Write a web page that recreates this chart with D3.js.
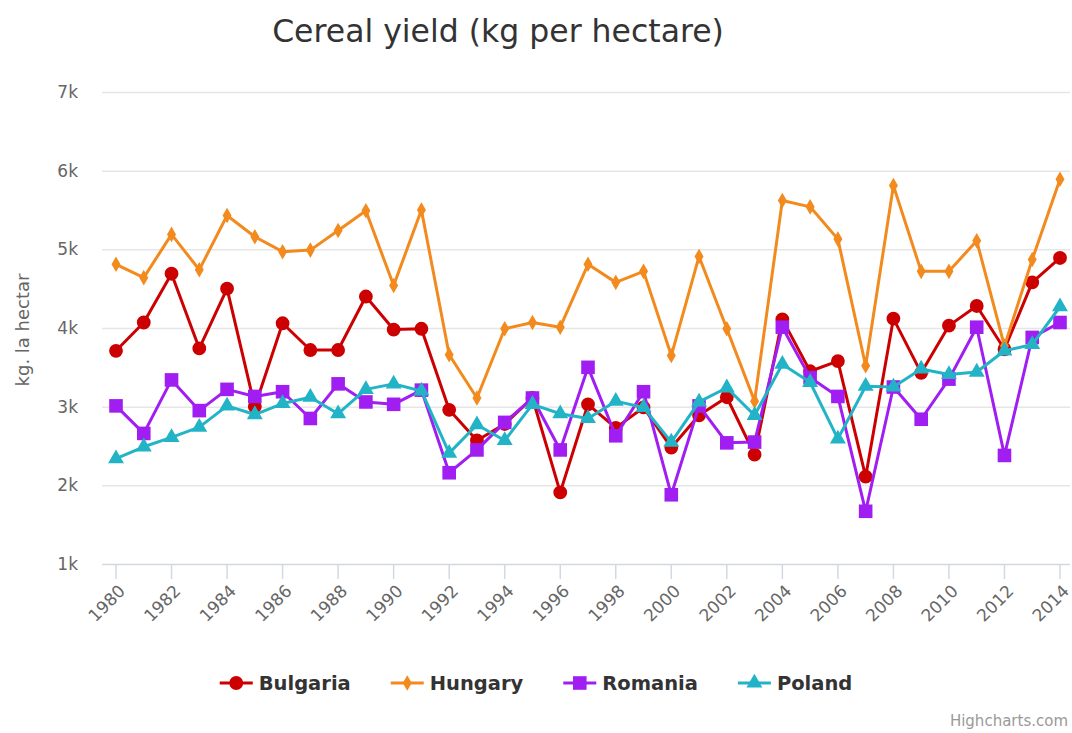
<!DOCTYPE html>
<html>
<head>
<meta charset="utf-8">
<script src="https://cdnjs.cloudflare.com/ajax/libs/d3/7.8.5/d3.min.js"></script>
<style>
  body { margin: 0; background: #fff; }
  svg { font-family: "DejaVu Sans", "Lucida Grande", sans-serif; }
</style>
</head>
<body>
<script>
// chart values
var years = d3.range(1980, 2015);
var yTicks = [1000, 2000, 3000, 4000, 5000, 6000, 7000];
var xTicks = d3.range(1980, 2015, 2);

var bulgaria = [3710, 4070, 4690, 3740, 4500, 3000, 4060, 3720, 3720, 4400,
                3980, 3990, 2960, 2570, 2780, 3110, 1910, 3030, 2730, 2990,
                2480, 2890, 3120, 2390, 4110, 3450, 3580, 2110, 4120, 3430,
                4030, 4280, 3730, 4580, 4890];
var hungary = [4810, 4640, 5190, 4740, 5430, 5160, 4970, 4990, 5240, 5490,
               4540, 5500, 3660, 3110, 3990, 4070, 4010, 4810, 4580, 4720,
               3650, 4910, 3990, 3070, 5620, 5540, 5130, 3520, 5810, 4720,
               4720, 5110, 3770, 4870, 5890];
var romania = [3010, 2660, 3340, 2950, 3220, 3130, 3190, 2850, 3290, 3060,
               3030, 3210, 2160, 2450, 2800, 3110, 2450, 3500, 2630, 3190,
               1880, 3010, 2540, 2550, 4010, 3370, 3130, 1670, 3250, 2840,
               3350, 4010, 2380, 3880, 4070];
var poland = [2340, 2490, 2610, 2740, 3010, 2900, 3040, 3120, 2910, 3220,
              3290, 3200, 2410, 2770, 2570, 3030, 2910, 2850, 3070, 2990,
              2550, 3060, 3240, 2890, 3540, 3310, 2590, 3260, 3250, 3480,
              3410, 3440, 3710, 3790, 4270];

var series = [
  { name: "Bulgaria", values: bulgaria, color: "#cc0000", marker: "circle" },
  { name: "Hungary", values: hungary, color: "#f28a1e", marker: "diamond" },
  { name: "Romania", values: romania, color: "#a01ef2", marker: "square" },
  { name: "Poland", values: poland, color: "#22b4c6", marker: "triangle" }
];

var w = 1072, h = 733;
var plotLeft = 102, plotRight = 1070;

var svg = d3.select("body").append("svg")
  .attr("width", w)
  .attr("height", h);

var x = d3.scaleLinear().domain([1980, 2014]).range([116, 1060]);
var y = d3.scaleLinear().domain([1000, 7000]).range([564, 92]);

var symbols = {
  circle: d3.symbol().type(d3.symbolCircle).size(150),
  diamond: d3.symbol().type(d3.symbolDiamond).size(70),
  square: d3.symbol().type(d3.symbolSquare).size(185),
  triangle: d3.symbol().type(d3.symbolTriangle).size(110)
};

// title
svg.append("text")
  .attr("x", 498).attr("y", 42)
  .attr("text-anchor", "middle")
  .style("font-size", "31.5px")
  .style("fill", "#333")
  .text("Cereal yield (kg per hectare)");

// grid lines
svg.append("g").selectAll("line").data(yTicks.slice(1)).enter().append("line")
  .attr("x1", plotLeft).attr("x2", plotRight)
  .attr("y1", function(d) { return y(d) + 0.5; })
  .attr("y2", function(d) { return y(d) + 0.5; })
  .style("stroke", "#e6e6e6")
  .style("stroke-width", 1.5);

// y labels
svg.append("g").selectAll("text").data(yTicks).enter().append("text")
  .attr("x", 78)
  .attr("y", function(d) { return y(d); })
  .attr("dy", "0.35em")
  .attr("text-anchor", "end")
  .style("font-size", "17px")
  .style("fill", "#666")
  .text(function(d) { return (d / 1000) + "k"; });

svg.append("text")
  .attr("transform", "translate(29,330) rotate(-90)")
  .attr("text-anchor", "middle")
  .style("font-size", "18px")
  .style("fill", "#666")
  .text("kg. la hectar");

// x axis
var xAxis = svg.append("g");
xAxis.append("line")
  .attr("x1", plotLeft).attr("x2", plotRight)
  .attr("y1", y(1000) + 0.5).attr("y2", y(1000) + 0.5)
  .style("stroke", "#d4d8e0")
  .style("stroke-width", 1.5);
xAxis.selectAll(".tick").data(xTicks).enter().append("line")
  .attr("x1", function(d) { return x(d); })
  .attr("x2", function(d) { return x(d); })
  .attr("y1", y(1000)).attr("y2", y(1000) + 15)
  .style("stroke", "#d4d8e0")
  .style("stroke-width", 1.5);
xAxis.selectAll("text").data(xTicks).enter().append("text")
  .attr("transform", function(d) { return "translate(" + (x(d) + 6) + "," + (y(1000) + 24) + ") rotate(-45)"; })
  .attr("text-anchor", "end")
  .attr("dy", "0.35em")
  .style("font-size", "17px")
  .style("fill", "#666")
  .text(function(d) { return d; });

// series
var line = d3.line()
  .x(function(d, i) { return x(years[i]); })
  .y(function(d) { return y(d); });

series.forEach(function(s) {
  var g = svg.append("g");
  g.append("path")
    .attr("d", line(s.values))
    .style("fill", "none")
    .style("stroke", s.color)
    .style("stroke-width", 3)
    .style("stroke-linejoin", "round");
  g.selectAll("path.pt").data(s.values).enter().append("path")
    .attr("class", "pt")
    .attr("d", symbols[s.marker])
    .attr("transform", function(d, i) { return "translate(" + x(years[i]) + "," + y(d) + ")"; })
    .style("fill", s.color);
});

// legend
var legend = svg.append("g");
var lx = 0;
series.forEach(function(s) {
  var item = legend.append("g").attr("transform", "translate(" + lx + ",0)");
  item.append("line")
    .attr("x1", 0).attr("x2", 33).attr("y1", 0).attr("y2", 0)
    .style("stroke", s.color).style("stroke-width", 3);
  item.append("path")
    .attr("d", symbols[s.marker])
    .attr("transform", "translate(16.5,0)")
    .style("fill", s.color);
  var t = item.append("text")
    .attr("x", 39).attr("dy", "0.35em")
    .style("font-size", "19.5px")
    .style("font-weight", "bold")
    .style("fill", "#333")
    .text(s.name);
  lx += 39 + t.node().getComputedTextLength() + 40;
});
lx -= 40;
legend.attr("transform", "translate(" + (536 - lx / 2) + ",683)");

// credits
svg.append("text")
  .attr("x", 1068).attr("y", 726)
  .attr("text-anchor", "end")
  .style("font-size", "15px")
  .style("fill", "#999")
  .text("Highcharts.com");
</script>
</body>
</html>
